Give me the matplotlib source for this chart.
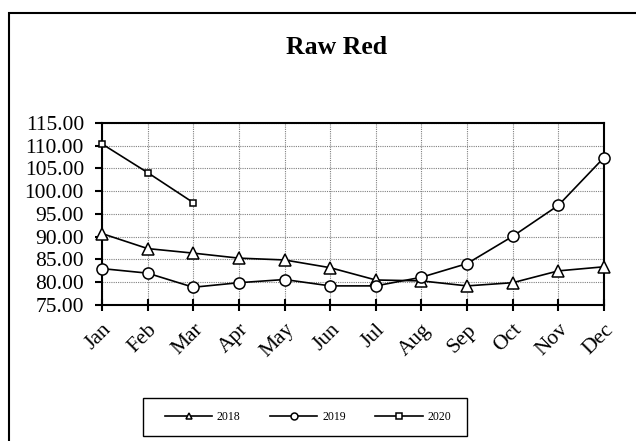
import matplotlib
matplotlib.use("Agg")
import matplotlib.pyplot as plt
from matplotlib.patches import Rectangle

plt.rcParams['font.family'] = ['Liberation Serif', 'DejaVu Serif']

months = ['Jan', 'Feb', 'Mar', 'Apr', 'May', 'Jun', 'Jul', 'Aug', 'Sep', 'Oct', 'Nov', 'Dec']
y2018 = [90.7, 87.4, 86.4, 85.3, 84.9, 83.2, 80.5, 80.3, 79.2, 79.9, 82.5, 83.4]
y2019 = [83.0, 82.0, 78.9, 79.9, 80.6, 79.2, 79.2, 81.1, 84.1, 90.1, 96.9, 107.4]
y2020 = [110.4, 104.1, 97.5]
yticks = [75, 80, 85, 90, 95, 100, 105, 110, 115]

fig = plt.figure(figsize=(6.36, 4.41), dpi=100)
ax = fig.add_axes([102 / 636, 1 - 305 / 441, 502 / 636, 182 / 441])

x = list(range(len(months)))
style = dict(color='black', lw=1.2, mfc='white', mec='black', mew=1.1, zorder=3, clip_on=False)
ax.plot(x, y2018, marker='^', ms=8, label='2018', **style)
ax.plot(x, y2019, marker='o', ms=8, label='2019', **style)
ax.plot(x[:len(y2020)], y2020, marker='s', ms=5, label='2020', **style)

ax.set_xlim(0, 11)
ax.set_ylim(75, 115)
ax.set_xticks(x)
ax.set_xticklabels(months, fontsize=15.5)
ax.set_yticks(yticks)
ax.set_yticklabels(['%.2f' % v for v in yticks], fontsize=15.5)
plt.setp(ax.get_xticklabels(), rotation=45, ha='right', rotation_mode='anchor')

ax.tick_params(axis='x', direction='inout', length=8, width=1.5, pad=7)
ax.tick_params(axis='y', direction='out', length=5, width=1.5, pad=8)
ax.grid(True, color='gray', linestyle=(0, (1, 1)), lw=0.8)
ax.set_axisbelow(True)
for s in ax.spines.values():
    s.set_linewidth(1.5)

fig.text(337 / 636, 1 - 47 / 441, 'Raw Red', ha='center', va='center',
         fontsize=18.5, fontweight='bold')

# legend box drawn separately so its size matches
fig.add_artist(Rectangle((143 / 636, 1 - 436 / 441), 324 / 636, 38 / 441,
                         transform=fig.transFigure, fill=False, lw=1.0, edgecolor='black'))
leg = fig.legend(loc='center', bbox_to_anchor=(308 / 636, 1 - 417 / 441),
                 ncol=3, fontsize=8.5, handlelength=4, handletextpad=0.4,
                 columnspacing=2.5, frameon=False)
for h in leg.legend_handles:
    h.set_markersize(5)

fig.add_artist(Rectangle((9 / 636, -0.1), 1.2, 1.1 - 13 / 441, transform=fig.transFigure,
                         fill=False, lw=1.5, edgecolor='black', clip_on=False))

fig.savefig('out.png', dpi=100)
